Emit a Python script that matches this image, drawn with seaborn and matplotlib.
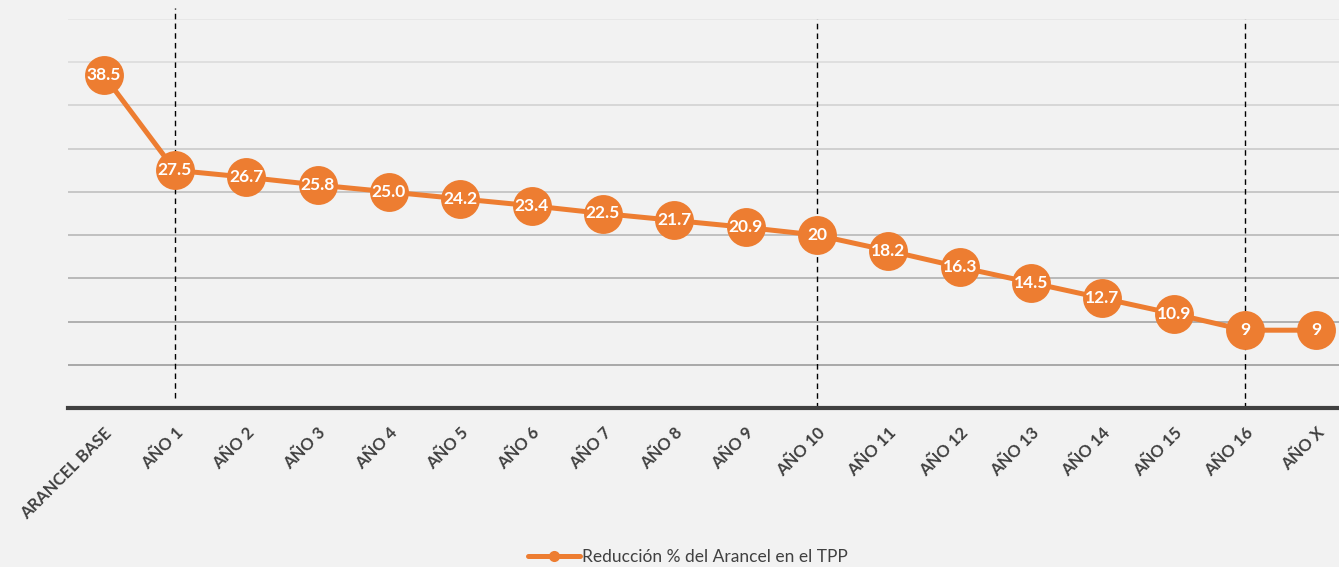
import numpy as np
import pandas as pd
import matplotlib
matplotlib.use("Agg")
import matplotlib.pyplot as plt
import seaborn as sb

categorias = ["ARANCEL BASE", "AÑO 1", "AÑO 2", "AÑO 3", "AÑO 4", "AÑO 5", "AÑO 6",
              "AÑO 7", "AÑO 8", "AÑO 9", "AÑO 10", "AÑO 11", "AÑO 12", "AÑO 13",
              "AÑO 14", "AÑO 15", "AÑO 16", "AÑO X"]
valores = [38.5, 27.5, 26.7, 25.8, 25.0, 24.2, 23.4, 22.5, 21.7, 20.9, 20,
           18.2, 16.3, 14.5, 12.7, 10.9, 9, 9]
etiquetas = ["38.5", "27.5", "26.7", "25.8", "25.0", "24.2", "23.4", "22.5", "21.7",
             "20.9", "20", "18.2", "16.3", "14.5", "12.7", "10.9", "9", "9"]
anios_corte = ["AÑO 1", "AÑO 10", "AÑO 16"]
nume_serie = "Reducción % del Arancel en el TPP"

fundal = "#f2f2f2"
portocaliu = "#ed7d31"
gri_text = "#404040"

sb.set_theme(style="white")
plt.rcParams["font.family"] = ["Lato", "DejaVu Sans"]

t = pd.DataFrame({"pozitie": np.arange(len(categorias)), "valoare": valores})

fig = plt.figure(figsize=(13.39, 5.67), dpi=100, facecolor=fundal)
ax = fig.add_axes([68 / 1339, 1 - 408 / 567, (1352 - 68) / 1339, (408 - 19) / 567])
ax.set_facecolor(fundal)

# gridlines, lighter at the top
grid_vals = np.arange(5, 50, 5)
culori = np.linspace(0.64, 0.90, len(grid_vals))
for v, c in zip(grid_vals, culori):
    ax.axhline(v, color=str(c), lw=1.3, zorder=0)

# vertical dashed markers
for a in anios_corte:
    i = categorias.index(a)
    y_top = 46.3 if a == "AÑO 1" else 45
    y_bot = 1.2 if a == "AÑO 1" else 0
    ax.plot([i, i], [y_bot, y_top], color="black", lw=1, ls=(0, (4, 3)), zorder=1,
            clip_on=False)

sb.lineplot(data=t, x="pozitie", y="valoare", ax=ax, color=portocaliu, lw=3.6,
            marker="o", markersize=28, markeredgewidth=0, label=nume_serie)
ax.lines[-1].set_zorder(3)

for i, (v, s) in enumerate(zip(valores, etiquetas)):
    ax.text(i, v, s, ha="center", va="center", color="white", fontsize=12.5,
            fontweight="bold", zorder=4)

ax.set_xlim(-0.5, 17.5)
ax.set_ylim(0, 45)
ax.set_xlabel("")
ax.set_ylabel("")
ax.set_yticks([])
ax.set_xticks(t["pozitie"])
ax.set_xticklabels(categorias, rotation=45, ha="right", rotation_mode="anchor",
                   fontsize=12, fontweight="bold", color=gri_text)
ax.tick_params(axis="x", length=0, pad=12)

for s in ["top", "right", "left"]:
    ax.spines[s].set_visible(False)
ax.spines["bottom"].set_color(gri_text)
ax.spines["bottom"].set_linewidth(3)
ax.spines["bottom"].set_zorder(5)

leg = ax.legend(loc="center", bbox_to_anchor=(688 / 1339, 1 - 557 / 567),
                bbox_transform=fig.transFigure, frameon=False, fontsize=12.5,
                handlelength=3, handletextpad=0.1, labelcolor=gri_text)
for h in leg.legend_handles:
    h.set_markersize(8)

fig.savefig("out.png", dpi=100, facecolor=fundal)
